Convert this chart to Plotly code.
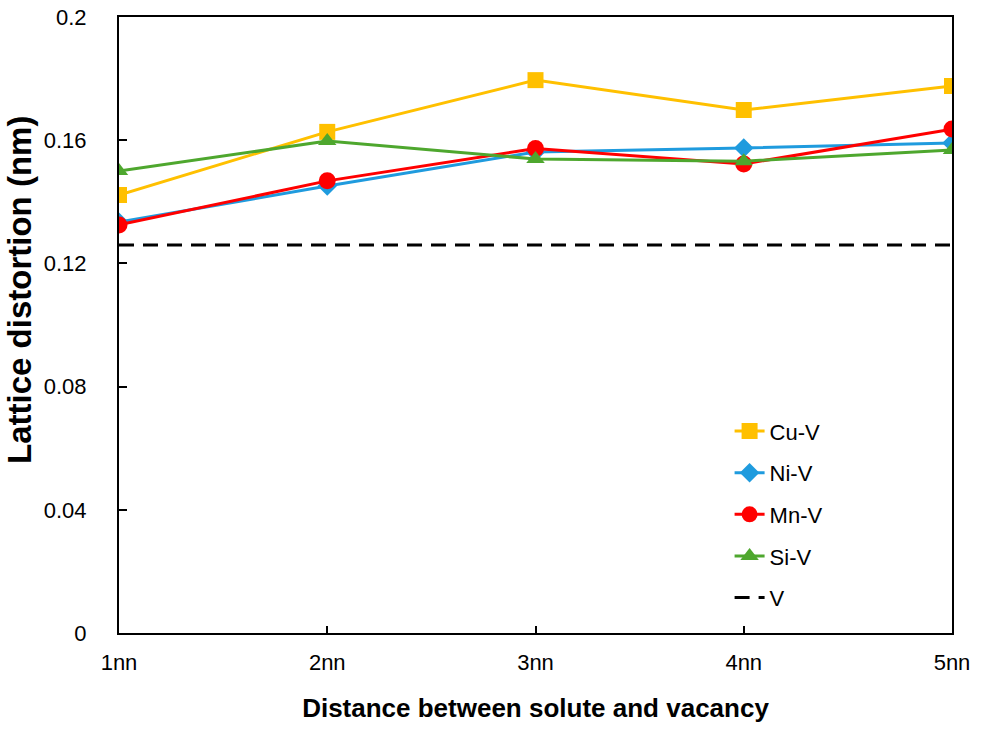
import plotly.graph_objects as go

distances = ["1nn", "2nn", "3nn", "4nn", "5nn"]
cu_v = [0.1422, 0.1627, 0.1795, 0.1698, 0.1776]
ni_v = [0.1334, 0.1451, 0.1562, 0.1575, 0.1591]
mn_v = [0.1325, 0.1468, 0.1573, 0.1523, 0.1636]
si_v = [0.1500, 0.1597, 0.1539, 0.1532, 0.1568]
vac = [0.1260] * 5

fig = go.Figure()

# solute-vacancy series
series = [
    ("Cu-V", cu_v, "#FFC000", "square", 16),
    ("Ni-V", ni_v, "#1F9BDE", "diamond", 15),
    ("Mn-V", mn_v, "#FF0000", "circle", 17),
    ("Si-V", si_v, "#4EA72E", "triangle-up", 16),
]
for name, vals, col, sym, sz in series:
    fig.add_trace(go.Scatter(
        x=distances, y=vals, name=name, mode="lines+markers", legendgroup=name,
        line=dict(color=col, width=3),
        marker=dict(symbol=sym, size=sz, color=col),
    ))

fig.add_trace(go.Scatter(
    x=distances, y=vac, name="V", mode="lines", legendgroup="V",
    line=dict(color="black", width=3, dash="15px,9px"),
))

fig.update_layout(
    width=982, height=734,
    margin=dict(l=119, r=30, t=17, b=101),
    plot_bgcolor="white", paper_bgcolor="white",
    font=dict(family="Liberation Sans, Arial", size=22, color="black"),
    showlegend=True,
    legend=dict(x=0.733, y=0.3615, xanchor="left", yanchor="top",
                bgcolor="rgba(0,0,0,0)", font=dict(size=22),
                tracegroupgap=10),
)
# y title as annotation, it sits a bit above the middle of the axis in the original
fig.add_annotation(
    text="<b>Lattice distortion (nm)</b>", textangle=-90,
    xref="paper", yref="paper", x=-0.1188, y=0.557,
    xanchor="center", yanchor="middle", showarrow=False,
    font=dict(size=33),
)
fig.update_xaxes(
    type="category", range=[0, 4], automargin=False,
    showline=True, linecolor="black", linewidth=2, mirror=True,
    ticks="inside", ticklen=7, tickcolor="black", tickwidth=2,
    tickfont=dict(size=22), ticklabelstandoff=9,
    showgrid=False,
    title=dict(text="<b>Distance between solute and vacancy</b>", font=dict(size=26), standoff=24),
)
fig.update_yaxes(
    range=[0, 0.2], automargin=False, ticklabeloverflow="allow",
    tickvals=[0, 0.04, 0.08, 0.12, 0.16, 0.2],
    ticktext=["0", "0.04", "0.08", "0.12", "0.16", "0.2"],
    showline=True, linecolor="black", linewidth=2, mirror=True,
    ticks="inside", ticklen=8, tickcolor="black", tickwidth=2,
    tickfont=dict(size=22), ticklabelstandoff=26,
    showgrid=False, zeroline=False,
)

# drop the default 8px body margin so the figure fills the window
fig.write_html("out.html", config={"displayModeBar": False},
               post_script="document.body.style.margin='0';")
